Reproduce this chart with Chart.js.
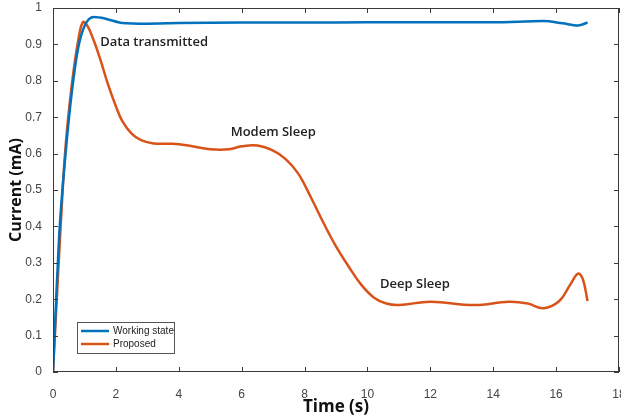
<!DOCTYPE html>
<html>
<head>
<meta charset="utf-8">
<script src="https://cdn.jsdelivr.net/npm/chart.js@4.4.0/dist/chart.umd.min.js"></script>
<style>
  html, body { margin: 0; padding: 0; background: #fff; }
  #wrap { width: 621px; height: 420px; }
</style>
</head>
<body>
<div id="wrap"><canvas id="chart0" width="621" height="420"></canvas></div>
<script>
// data
const workingTime = [0, 0.1, 0.2, 0.4, 0.6, 0.8, 1.0, 1.3, 1.7, 2.2, 3, 4, 6, 8, 10, 12, 14, 15.6, 16.2, 16.7, 17.0];
const workingCurrent = [0, 0.2, 0.38, 0.6, 0.77, 0.89, 0.95, 0.975, 0.97, 0.959, 0.957, 0.959, 0.96, 0.96, 0.961, 0.961, 0.961, 0.964, 0.958, 0.952, 0.96];

const proposedTime = [0, 0.12, 0.25, 0.4, 0.6, 0.8, 0.95, 1.1, 1.3, 1.5, 1.75, 2.0, 2.2, 2.5, 2.8, 3.2, 3.8, 4.3, 5.0, 5.6, 6.0, 6.5, 7.0, 7.4, 7.8, 8.2, 8.6, 9.0, 9.4, 9.8, 10.2, 10.6, 11.0, 12.0, 13.4, 14.5, 15.1, 15.6, 16.1, 16.45, 16.7, 16.85, 17.0];
const proposedCurrent = [0, 0.2, 0.41, 0.62, 0.79, 0.91, 0.961, 0.95, 0.91, 0.86, 0.79, 0.73, 0.69, 0.655, 0.637, 0.628, 0.627, 0.622, 0.612, 0.612, 0.62, 0.622, 0.608, 0.585, 0.545, 0.48, 0.41, 0.345, 0.29, 0.24, 0.205, 0.188, 0.184, 0.193, 0.184, 0.193, 0.188, 0.175, 0.195, 0.24, 0.27, 0.255, 0.195];

const seriesNames = ['Working state', 'Proposed'];
const seriesColors = ['#0072BD', '#D95319'];

// text notes, placed in data units (left edge, middle)
const noteText = ['Data transmitted', 'Modem Sleep', 'Deep Sleep'];
const noteTime = [1.5, 5.65, 10.4];
const noteCurrent = [0.905, 0.658, 0.24];

const toPoints = (xs, ys) => xs.map((x, i) => ({ x: x, y: ys[i] }));

// box round the plot, inward ticks, notes and the legend
const boxPlugin = {
  id: 'boxPlugin',
  afterDraw(chart) {
    const ctx = chart.ctx;
    const a = chart.chartArea;
    const xs = chart.scales.x, ys = chart.scales.y;
    ctx.save();
    ctx.strokeStyle = '#3a3a3a';
    ctx.lineWidth = 1;
    ctx.strokeRect(a.left + 0.5, a.top + 0.5, a.right - a.left - 1, a.bottom - a.top - 1);
    ctx.beginPath();
    xs.ticks.forEach(t => {
      const px = Math.round(xs.getPixelForValue(t.value)) + 0.5;
      ctx.moveTo(px, a.bottom); ctx.lineTo(px, a.bottom - 5);
      ctx.moveTo(px, a.top); ctx.lineTo(px, a.top + 5);
    });
    ys.ticks.forEach(t => {
      const py = Math.round(ys.getPixelForValue(t.value)) + 0.5;
      ctx.moveTo(a.left, py); ctx.lineTo(a.left + 5, py);
      ctx.moveTo(a.right, py); ctx.lineTo(a.right - 5, py);
    });
    ctx.stroke();

    ctx.fillStyle = '#222';
    ctx.font = '600 13px "Open Sans"';
    ctx.textBaseline = 'middle';
    ctx.textAlign = 'left';
    noteText.forEach((s, i) => {
      ctx.fillText(s, xs.getPixelForValue(noteTime[i]), ys.getPixelForValue(noteCurrent[i]));
    });

    // legend box
    const lx = 77, ly = 322, lw = 97, lh = 31;
    ctx.fillStyle = '#fff';
    ctx.fillRect(lx, ly, lw, lh);
    ctx.strokeStyle = '#555';
    ctx.strokeRect(lx + 0.5, ly + 0.5, lw, lh);
    ctx.font = '10px "Liberation Sans"';
    ctx.fillStyle = '#222';
    seriesNames.forEach((s, i) => {
      const yy = ly + 9 + i * 13;
      ctx.strokeStyle = seriesColors[i];
      ctx.lineWidth = 2.5;
      ctx.beginPath();
      ctx.moveTo(lx + 4, yy); ctx.lineTo(lx + 32, yy);
      ctx.stroke();
      ctx.fillText(s, lx + 36, yy);
    });
    ctx.restore();
  }
};

const ctx = document.getElementById('chart0').getContext('2d');
new Chart(ctx, {
  type: 'line',
  data: {
    datasets: [
      {
        label: seriesNames[0],
        data: toPoints(workingTime, workingCurrent),
        borderColor: seriesColors[0],
        borderWidth: 2.5,
        pointRadius: 0,
        cubicInterpolationMode: 'monotone'
      },
      {
        label: seriesNames[1],
        data: toPoints(proposedTime, proposedCurrent),
        borderColor: seriesColors[1],
        borderWidth: 2.5,
        pointRadius: 0,
        tension: 0.4
      }
    ]
  },
  options: {
    responsive: false,
    animation: false,
    layout: { padding: { top: 8, right: 2, left: 0, bottom: 0 } },
    plugins: { legend: { display: false }, tooltip: { enabled: false } },
    scales: {
      x: {
        type: 'linear',
        min: 0, max: 18,
        grid: { display: false },
        border: { display: false },
        ticks: { stepSize: 2, padding: 7, color: '#444', font: { family: 'Liberation Sans', size: 12 } },
        title: { display: true, text: 'Time (s)', color: '#111', font: { family: 'Open Sans', size: 17, weight: 'bold' }, padding: { top: 0, bottom: 3 } },
        afterFit(s) { s.height = 48; s.paddingRight = 0; s.paddingLeft = 0; }
      },
      y: {
        min: 0, max: 1,
        grid: { display: false },
        border: { display: false },
        ticks: {
          stepSize: 0.1, padding: 3, color: '#444', font: { family: 'Liberation Sans', size: 12 },
          callback: v => String(Number(v.toFixed(1)))
        },
        title: { display: true, text: 'Current (mA)', color: '#111', font: { family: 'Open Sans', size: 16, weight: 'bold' }, padding: { top: 7, bottom: 4 } },
        afterFit(s) { s.width = 53; s.paddingTop = 0; s.paddingBottom = 0; }
      }
    }
  },
  plugins: [boxPlugin]
});
</script>
</body>
</html>
